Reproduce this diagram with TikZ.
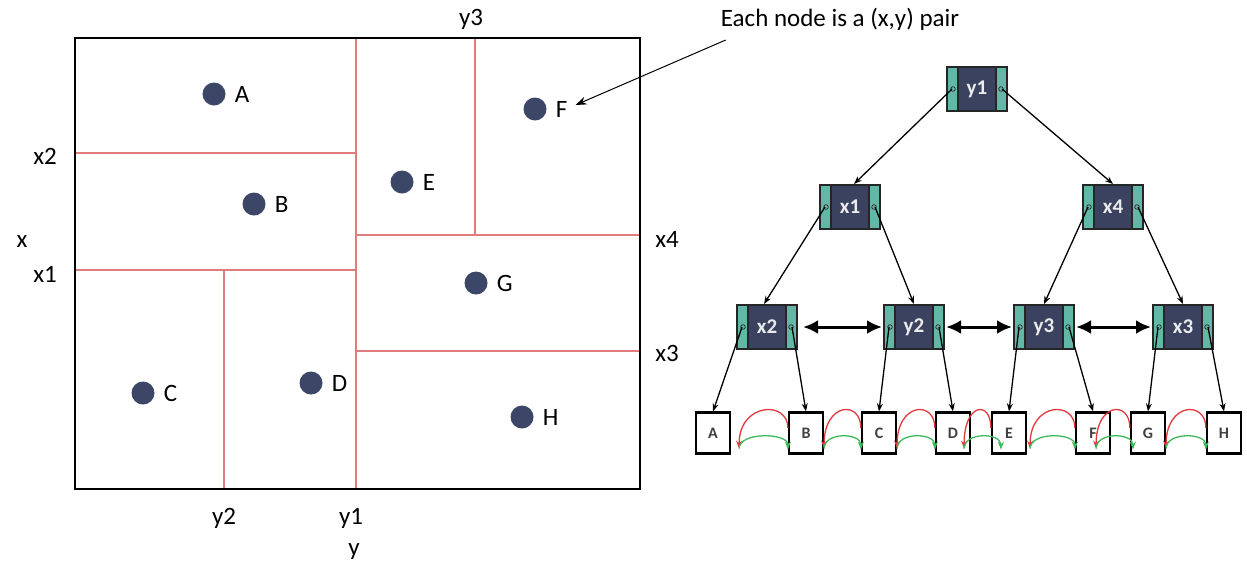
\documentclass[tikz,border=0pt]{standalone}
\usepackage{fontspec}
\setmainfont{Carlito}
\usetikzlibrary{arrows.meta, positioning, calc}
\definecolor{navy}{HTML}{3C4667}
\definecolor{splitred}{HTML}{E07C7C}
\definecolor{kdteal}{HTML}{62B8A6}
\definecolor{kddark}{HTML}{3B425F}
\definecolor{linkred}{HTML}{E0393E}
\definecolor{linkgreen}{HTML}{3DBA5A}
\tikzset{
  split/.style={draw=splitred, line width=1.3pt},
  point/.style={circle, fill=navy, minimum size=23pt, inner sep=0pt},
  ptlabel/.style={font=\fontsize{25}{30}\selectfont, inner sep=0pt},
  axislabel/.style={font=\fontsize{25}{30}\selectfont, inner sep=0pt},
  kd/.style={rectangle, draw=black!85, line width=2pt, fill=kddark,
    minimum width=60pt, minimum height=44pt, text=white!92!black,
    font=\fontsize{21}{24}\selectfont\bfseries,
    path picture={
      \fill[kdteal] (path picture bounding box.north west) rectangle ([xshift=11pt]path picture bounding box.south west);
      \fill[kdteal] (path picture bounding box.north east) rectangle ([xshift=-11pt]path picture bounding box.south east);
      \draw[line width=2pt] ([xshift=11pt]path picture bounding box.north west) -- ([xshift=11pt]path picture bounding box.south west);
      \draw[line width=2pt] ([xshift=-11pt]path picture bounding box.north east) -- ([xshift=-11pt]path picture bounding box.south east);
      \draw[line width=.7pt] ([xshift=6pt]path picture bounding box.west) circle (2.3pt);
      \draw[line width=.7pt] ([xshift=-6pt]path picture bounding box.east) circle (2.3pt);
    }},
  leaf/.style={rectangle, draw=black, line width=2.2pt, fill=white,
    minimum width=34pt, minimum height=41pt, font=\fontsize{16}{18}\selectfont\bfseries, text=black!75},
  edge/.style={-{Stealth[length=8pt, width=6pt]}, line width=1.3pt},
  sib/.style={{Latex[length=15pt, width=14pt]}-{Latex[length=15pt, width=14pt]}, line width=3pt},
  prevlink/.style={-{Stealth[length=8pt, width=6pt]}, draw=linkred, line width=1.3pt},
  nextlink/.style={-{Stealth[length=8pt, width=6pt]}, draw=linkgreen, line width=1.3pt},
  note/.style={font=\fontsize{25}{30}\selectfont, inner sep=0pt},
  pointer/.style={-{Stealth[length=11pt, width=8pt]}, line width=1pt},
}
\begin{document}
\begin{tikzpicture}[x=1pt, y=-1pt]
\useasboundingbox (0,0) rectangle (1247,566);

% partition of the plane
\draw[split] (75,153) -- (356,153);
\draw[split] (75,270) -- (356,270);
\draw[split] (224,270) -- (224,489);
\draw[split] (356,38) -- (356,489);
\draw[split] (356,235) -- (640,235);
\draw[split] (475,38) -- (475,235);
\draw[split] (356,351) -- (640,351);
\draw[line width=2.5pt] (75,38) rectangle (640,489);

\node[axislabel] (ly3) at (471,19) {y3};
\node[axislabel] (lx2) at (45,156) {x2};
\node[axislabel] (lx) at (22,242) {x};
\node[axislabel] (lx1) at (45,274) {x1};
\node[axislabel] (lx4) at (667,239) {x4};
\node[axislabel] (lx3) at (667,353) {x3};
\node[axislabel] (ly2) at (224,518) {y2};
\node[axislabel] (ly1) at (351,518) {y1};
\node[axislabel] (ly) at (354,552) {y};

% points
\foreach \n/\px/\py in {A/214/94, B/254/204, C/143/393, D/311/383,
                        E/402/182, F/535/109, G/476/283, H/522/417} {
  \node[point] (p\n) at (\px,\py) {};
  \node[ptlabel, right=9pt of p\n] (l\n) {\n};
}

\node[note] (note) at (840,19) {Each node is a (x,y) pair};
\draw[pointer] ([xshift=5pt,yshift=-21pt]note.west) -- ([xshift=8pt,yshift=4pt]lF.east);

% kd-tree
\node[kd] (y1) at (977,89) {y1};
\node[kd] (x1) at (850,207) {x1};
\node[kd] (x4) at (1113,207) {x4};
\node[kd] (x2) at (767,327) {x2};
\node[kd] (y2) at (914,327) {y2};
\node[kd] (y3) at (1044,327) {y3};
\node[kd] (x3) at (1183,327) {x3};

\foreach \n/\px in {A/713, B/806, C/879, D/953, E/1009, F/1093, G/1148, H/1224}
  \node[leaf] (\n) at (\px,433) {\n};

\draw[edge] ([xshift=6pt]y1.west) -- ([xshift=4pt]x1.north);
\draw[edge] ([xshift=-6pt]y1.east) -- (x4.north);
\draw[edge] ([xshift=6pt]x1.west) -- ([xshift=-3pt]x2.north);
\draw[edge] ([xshift=-6pt]x1.east) -- (y2.north);
\draw[edge] ([xshift=6pt]x4.west) -- (y3.north);
\draw[edge] ([xshift=-6pt]x4.east) -- (x3.north);
\foreach \p/\l/\r in {x2/A/B, y2/C/D, y3/E/F, x3/G/H} {
  \draw[edge] ([xshift=6pt]\p.west) -- (\l.north);
  \draw[edge] ([xshift=-6pt]\p.east) -- (\r.north);
}

\draw[sib, shorten <=5pt, shorten >=1pt] (x2.east) -- (y2.west);
\draw[sib, shorten <=1pt, shorten >=1pt] (y2.east) -- (y3.west);
\draw[sib, shorten <=1pt, shorten >=1pt] (y3.east) -- (x3.west);

% leaf links (red back, green forward)
\foreach \l/\r/\dl/\dr in {A/B/8/0, B/C/0/0, C/D/0/0, D/E/-7/10, E/F/3/0, F/G/-15/3, G/H/0/0} {
  \draw[prevlink] ([yshift=5pt]\r.west) .. controls +(0,-28) and +(0,-46) .. ([xshift=\dl pt,yshift=6pt]\l.south east);
  \draw[nextlink] ([xshift=\dl pt,yshift=6pt]\l.south east) .. controls +(0,-17) and +(0,-17) .. ([xshift=\dr pt,yshift=5pt]\r.south west);
}
\end{tikzpicture}
\end{document}
